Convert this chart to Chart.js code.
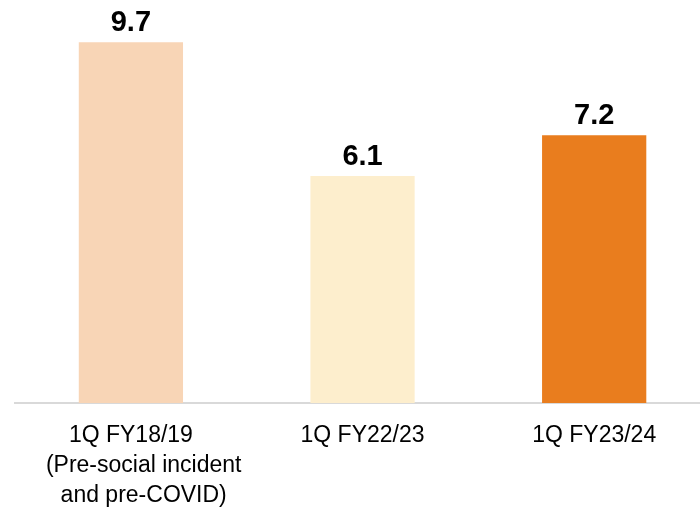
<!DOCTYPE html>
<html>
<head>
<meta charset="utf-8">
<script src="https://cdn.jsdelivr.net/npm/chart.js@4"></script>
<style>
  html, body { margin: 0; padding: 0; background: #fff; overflow: hidden; }
  .wrap { width: 710px; height: 508px; }
</style>
</head>
<body>
<div class="wrap"><canvas id="barChart"></canvas></div>
<script>
const categories = [
  ["1Q FY18/19", "    (Pre-social incident", "    and pre-COVID)"],
  "1Q FY22/23",
  "1Q FY23/24",
];
const values = [9.7, 6.1, 7.2];
const barColors = ["#F8D5B6", "#FDEECD", "#E97D1E"];

const valueLabels = {
  id: "valueLabels",
  afterDatasetsDraw(chart) {
    const ctx = chart.ctx;
    const meta = chart.getDatasetMeta(0);
    ctx.save();
    ctx.font = "bold 29px 'Liberation Sans', Arial, sans-serif";
    ctx.fillStyle = "#000";
    ctx.textAlign = "center";
    ctx.textBaseline = "alphabetic";
    meta.data.forEach((bar, i) => {
      ctx.fillText(values[i].toFixed(1), bar.x, bar.y - 11);
    });
    ctx.restore();
  },
};

const ctx = document.getElementById("barChart").getContext("2d");

new Chart(ctx, {
  type: "bar",
  data: {
    labels: categories,
    datasets: [
      {
        data: values,
        backgroundColor: barColors,
        borderWidth: 0,
        barPercentage: 0.45,
        categoryPercentage: 1,
      },
    ],
  },
  options: {
    responsive: true,
    maintainAspectRatio: false,
    animation: false,
    layout: { padding: { left: 14, right: 0, top: 31, bottom: 0 } },
    scales: {
      y: {
        display: false,
        min: 0,
        max: 10,
      },
      x: {
        grid: { drawOnChartArea: false, drawTicks: false },
        border: { color: "#d9d9d9", width: 2 },
        ticks: {
          color: "#000",
          padding: 18,
          maxRotation: 0,
          autoSkip: false,
          font: { size: 23, family: "'Liberation Sans', Arial, sans-serif", lineHeight: 1.29 },
        },
        afterFit(scale) {
          scale.height = 105;
        },
      },
    },
    plugins: {
      legend: { display: false },
      tooltip: { enabled: false },
    },
  },
  plugins: [valueLabels],
});
</script>
</body>
</html>
